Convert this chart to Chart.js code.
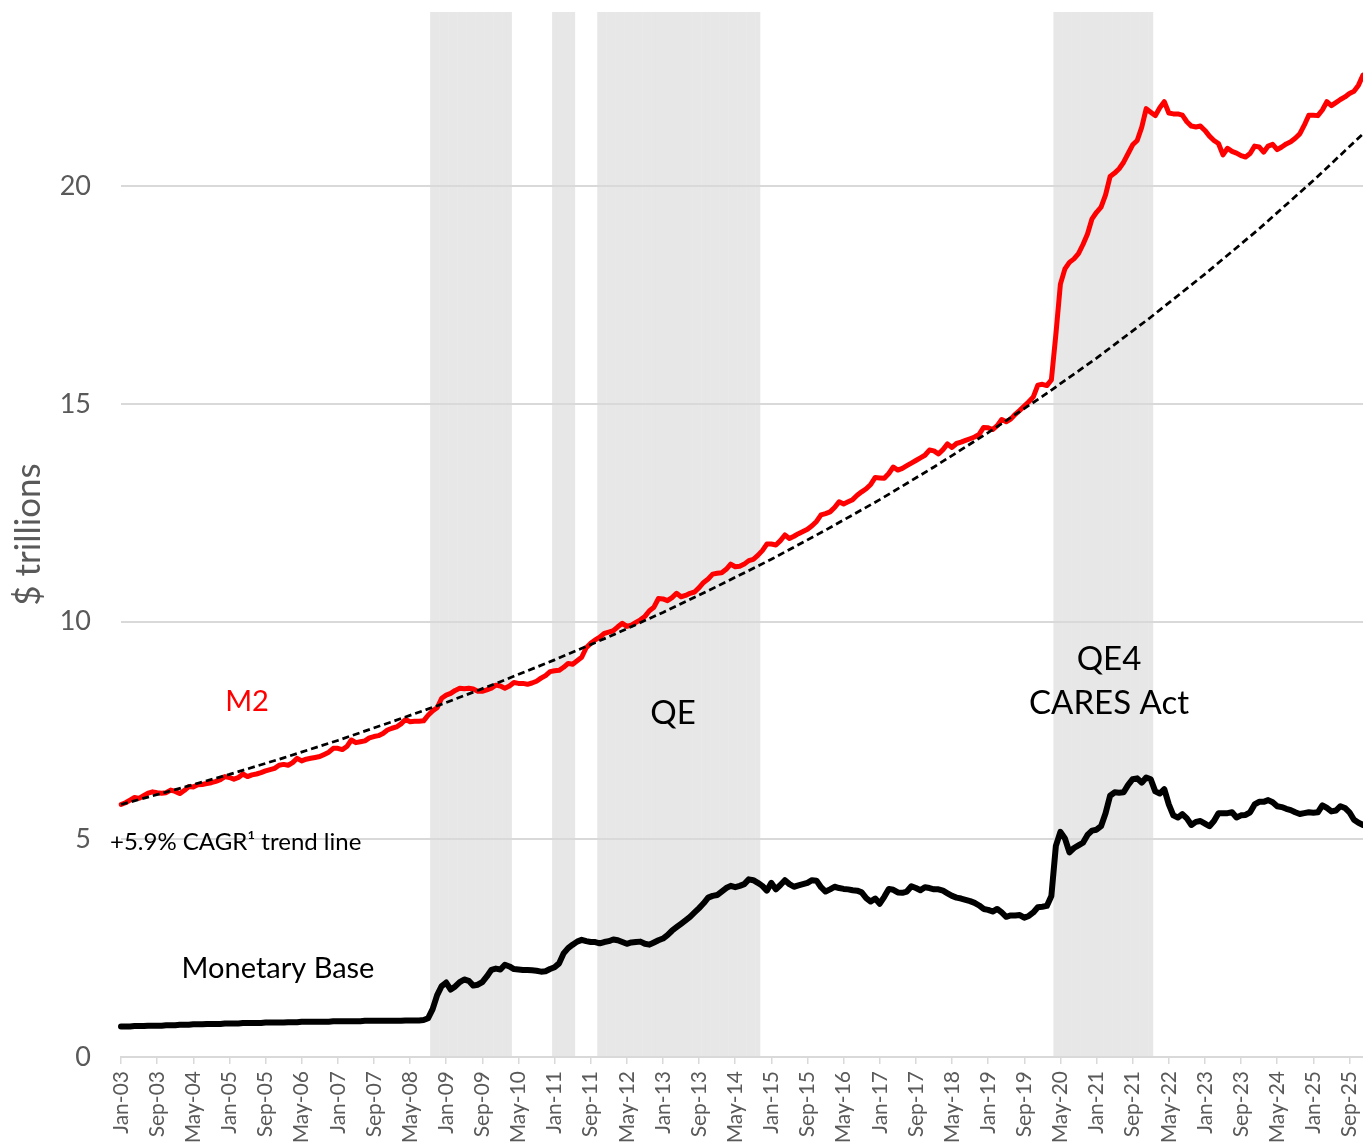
<!DOCTYPE html>
<html>
<head>
<meta charset="utf-8">
<script src="https://cdn.jsdelivr.net/npm/chart.js@4.4.1/dist/chart.umd.min.js"></script>
<style>
html,body{margin:0;padding:0;background:#ffffff;overflow:hidden}
canvas{display:block}
</style>
</head>
<body>
<canvas id="chart" width="1363" height="1147"></canvas>
<script>
// ---------- data ----------
const monthNames = ['Jan','Feb','Mar','Apr','May','Jun','Jul','Aug','Sep','Oct','Nov','Dec'];
const firstYear = 2003, lastYear = 2025;
const categories = [];
for (let y = firstYear; y <= lastYear; y++) {
  for (const m of monthNames) categories.push(m + '-' + String(y).slice(2));
}

// M2, $ trillions, monthly Jan-03 .. Dec-25
const m2Values = [
  5.80, 5.84, 5.90, 5.96, 5.94, 6.00, 6.06, 6.09, 6.07, 6.06, 6.07, 6.13,
  6.10, 6.05, 6.12, 6.21, 6.20, 6.25, 6.26, 6.28, 6.30, 6.33, 6.37, 6.44,
  6.42, 6.38, 6.42, 6.50, 6.44, 6.48, 6.50, 6.53, 6.57, 6.60, 6.63, 6.70,
  6.72, 6.70, 6.76, 6.86, 6.80, 6.84, 6.86, 6.88, 6.90, 6.95, 7.00, 7.09,
  7.09, 7.06, 7.13, 7.28, 7.22, 7.24, 7.26, 7.33, 7.36, 7.38, 7.43, 7.51,
  7.55, 7.58, 7.65, 7.75, 7.70, 7.71, 7.71, 7.72, 7.85, 7.95, 8.02, 8.24,
  8.31, 8.35, 8.42, 8.47, 8.46, 8.47, 8.45, 8.40, 8.40, 8.43, 8.47, 8.54,
  8.52, 8.47, 8.52, 8.60, 8.58, 8.58, 8.56, 8.59, 8.63, 8.70, 8.76, 8.85,
  8.87, 8.88, 8.95, 9.04, 9.02, 9.10, 9.18, 9.40, 9.50, 9.58, 9.64, 9.73,
  9.76, 9.79, 9.88, 9.96, 9.89, 9.92, 9.98, 10.04, 10.12, 10.25, 10.33, 10.53,
  10.52, 10.48, 10.55, 10.65, 10.57, 10.60, 10.65, 10.68, 10.78, 10.90, 10.98, 11.09,
  11.11, 11.12, 11.20, 11.32, 11.26, 11.27, 11.32, 11.40, 11.43, 11.52, 11.63, 11.78,
  11.78, 11.76, 11.86, 11.99, 11.91, 11.96, 12.02, 12.07, 12.12, 12.20, 12.30, 12.45,
  12.48, 12.52, 12.62, 12.75, 12.70, 12.75, 12.80, 12.90, 12.98, 13.05, 13.15, 13.31,
  13.30, 13.29, 13.40, 13.55, 13.48, 13.52, 13.58, 13.64, 13.70, 13.76, 13.82, 13.94,
  13.92, 13.85, 13.95, 14.08, 14.00, 14.09, 14.12, 14.16, 14.20, 14.24, 14.30, 14.46,
  14.45, 14.41, 14.50, 14.64, 14.59, 14.65, 14.76, 14.85, 14.95, 15.05, 15.16, 15.43,
  15.45, 15.42, 15.55, 16.60, 17.75, 18.10, 18.25, 18.33, 18.45, 18.66, 18.90, 19.25,
  19.40, 19.52, 19.80, 20.22, 20.30, 20.40, 20.55, 20.75, 20.95, 21.05, 21.35, 21.78,
  21.70, 21.62, 21.80, 21.94, 21.68, 21.66, 21.66, 21.63, 21.48, 21.38, 21.36, 21.38,
  21.28, 21.15, 21.05, 20.98, 20.72, 20.87, 20.80, 20.76, 20.70, 20.67, 20.75, 20.92,
  20.90, 20.78, 20.92, 20.96, 20.84, 20.90, 20.97, 21.02, 21.10, 21.20, 21.40, 21.63,
  21.63, 21.62, 21.75, 21.94, 21.85, 21.92, 21.99, 22.05, 22.13, 22.18, 22.32, 22.55
];

// Monetary base, $ trillions, monthly Jan-03 .. Dec-25
const baseValues = [
  0.70, 0.70, 0.70, 0.71, 0.71, 0.71, 0.72, 0.72, 0.72, 0.72, 0.73, 0.73,
  0.73, 0.74, 0.74, 0.74, 0.75, 0.75, 0.75, 0.76, 0.76, 0.76, 0.76, 0.77,
  0.77, 0.77, 0.77, 0.78, 0.78, 0.78, 0.78, 0.78, 0.79, 0.79, 0.79, 0.79,
  0.79, 0.80, 0.80, 0.80, 0.81, 0.81, 0.81, 0.81, 0.81, 0.81, 0.81, 0.82,
  0.82, 0.82, 0.82, 0.82, 0.82, 0.82, 0.83, 0.83, 0.83, 0.83, 0.83, 0.83,
  0.83, 0.83, 0.83, 0.84, 0.84, 0.84, 0.84, 0.85, 0.89, 1.10, 1.42, 1.63,
  1.71, 1.55, 1.62, 1.72, 1.78, 1.75, 1.64, 1.66, 1.72, 1.85, 2.00, 2.03,
  2.01, 2.12, 2.08, 2.02, 2.01, 2.00, 2.00, 1.99, 1.98, 1.96, 1.97, 2.02,
  2.06, 2.15, 2.38, 2.50, 2.58, 2.65, 2.69, 2.66, 2.64, 2.64, 2.61, 2.64,
  2.66, 2.70, 2.68, 2.64, 2.60, 2.63, 2.64, 2.65, 2.60, 2.58, 2.63, 2.68,
  2.72, 2.80, 2.90, 2.98, 3.06, 3.14, 3.22, 3.32, 3.42, 3.53, 3.66, 3.70,
  3.72, 3.80, 3.88, 3.93, 3.90, 3.93, 3.97, 4.08, 4.06, 4.00, 3.93, 3.82,
  4.00, 3.85, 3.95, 4.06, 3.97, 3.91, 3.94, 3.97, 4.00, 4.06, 4.05, 3.90,
  3.80, 3.85, 3.91, 3.88, 3.86, 3.85, 3.83, 3.82, 3.78, 3.65, 3.57, 3.64,
  3.52, 3.68, 3.86, 3.84, 3.78, 3.77, 3.80, 3.92, 3.88, 3.83, 3.90, 3.88,
  3.85, 3.85, 3.82, 3.76, 3.70, 3.66, 3.64, 3.61, 3.58, 3.54, 3.48, 3.40,
  3.38, 3.34, 3.40, 3.32, 3.22, 3.25, 3.25, 3.26, 3.20, 3.24, 3.32, 3.44,
  3.45, 3.47, 3.70, 4.85, 5.17, 5.02, 4.70, 4.80, 4.86, 4.92, 5.10, 5.20,
  5.22, 5.30, 5.60, 6.00, 6.08, 6.07, 6.08, 6.25, 6.38, 6.40, 6.30, 6.42,
  6.38, 6.10, 6.05, 6.15, 5.80, 5.55, 5.50, 5.58, 5.48, 5.33, 5.40, 5.42,
  5.36, 5.30, 5.42, 5.60, 5.60, 5.60, 5.62, 5.50, 5.55, 5.56, 5.62, 5.80,
  5.86, 5.86, 5.90, 5.85, 5.76, 5.74, 5.70, 5.67, 5.62, 5.58, 5.60, 5.62,
  5.61, 5.62, 5.78, 5.72, 5.64, 5.66, 5.76, 5.72, 5.62, 5.45, 5.38, 5.33
];

// +5.9% CAGR trend line, read at each January and at the last month
const trendDates = ['Jan-03','Jan-04','Jan-05','Jan-06','Jan-07','Jan-08','Jan-09','Jan-10',
  'Jan-11','Jan-12','Jan-13','Jan-14','Jan-15','Jan-16','Jan-17','Jan-18','Jan-19','Jan-20',
  'Jan-21','Jan-22','Jan-23','Jan-24','Jan-25','Dec-25'];
const trendValues = [5.80, 6.14, 6.49, 6.87, 7.27, 7.70, 8.14, 8.62,
  9.12, 9.65, 10.21, 10.81, 11.43, 12.10, 12.80, 13.55, 14.34, 15.17,
  16.05, 16.99, 17.98, 19.02, 20.13, 21.20];

// QE periods (shaded), first and last month
const qePeriods = [['Oct-08','Mar-10'], ['Jan-11','May-11'], ['Nov-11','Oct-14'], ['Apr-20','Jan-22']];

const yMin = 0, yMax = 24, yStep = 5;
const xLabelEvery = 8;

// ---------- derived tables for the library ----------
const shadeData = categories.map((c, i) =>
  qePeriods.some(([s, e]) => i >= categories.indexOf(s) && i <= categories.indexOf(e)) ? yMax : null);
const trendData = trendDates.map((d, i) => ({x: d, y: trendValues[i]}));

const FONT = 'Lato, "Open Sans", sans-serif';
const notes = [
  {text: 'M2', x: 247, y: 702, color: '#ff0000', size: 29, align: 'center'},
  {text: 'QE', x: 673, y: 713, color: '#000000', size: 33, align: 'center'},
  {text: 'QE4', x: 1109, y: 659, color: '#000000', size: 33, align: 'center'},
  {text: 'CARES Act', x: 1109, y: 703, color: '#000000', size: 33, align: 'center'},
  {text: 'Monetary Base', x: 278, y: 969, color: '#000000', size: 29, align: 'center'},
  {text: '+5.9% CAGR\u00B9 trend line', x: 110, y: 842, color: '#000000', size: 24, align: 'left'}
];

const notesPlugin = {
  id: 'notes',
  // redraw horizontal grid lines over the QE shading, under the series lines
  afterDatasetDraw(chart, args) {
    if (args.meta.type === 'bar') {
      chart.scales.y.drawGrid(chart.chartArea);
    }
  },
  afterDatasetsDraw(chart) {
    const ctx = chart.ctx;
    ctx.save();
    ctx.textBaseline = 'middle';
    for (const n of notes) {
      ctx.font = n.size + 'px ' + FONT;
      ctx.fillStyle = n.color;
      ctx.textAlign = n.align;
      ctx.fillText(n.text, n.x, n.y);
    }
    ctx.restore();
  }
};

function build() {
  new Chart(document.getElementById('chart'), {
    type: 'line',
    data: {
      labels: categories,
      datasets: [
        {
          label: 'Trend', data: trendData, borderColor: '#000000', borderWidth: 2.75,
          borderDash: [7, 4], pointRadius: 0, spanGaps: true, tension: 0, order: 0, fill: false
        },
        {
          label: 'M2', data: m2Values, borderColor: '#ff0000', borderWidth: 5,
          pointRadius: 0, tension: 0, order: 1, borderJoinStyle: 'round', borderCapStyle: 'round', fill: false
        },
        {
          label: 'Monetary Base', data: baseValues, borderColor: '#000000', borderWidth: 6,
          pointRadius: 0, tension: 0, order: 1, borderJoinStyle: 'round', borderCapStyle: 'round', fill: false
        },
        {
          type: 'bar', label: 'QE', data: shadeData, backgroundColor: '#e7e7e7',
          borderWidth: 0, barPercentage: 1.1, categoryPercentage: 1, order: 5
        }
      ]
    },
    options: {
      responsive: false,
      animation: false,
      devicePixelRatio: 1,
      layout: {padding: {top: 12, left: 0, right: 0, bottom: 0}},
      plugins: {legend: {display: false}, tooltip: {enabled: false}},
      scales: {
        x: {
          type: 'category',
          offset: false,
          grid: {display: true, drawOnChartArea: false, drawTicks: true, tickLength: 7,
                 color: '#d9d9d9', lineWidth: 1.5, offset: false},
          border: {display: true, color: '#d9d9d9', width: 2},
          ticks: {autoSkip: false, minRotation: 90, maxRotation: 90, padding: 7,
                  color: '#595959', font: {family: FONT, size: 21}},
          afterBuildTicks(s) { s.ticks = s.ticks.filter(t => t.value % xLabelEvery === 0); },
          afterFit(s) { s.height = 90; s.paddingLeft = 0; s.paddingRight = 0; }
        },
        y: {
          min: yMin, max: yMax,
          grid: {color: '#d9d9d9', lineWidth: 2, drawTicks: false},
          border: {display: false},
          ticks: {stepSize: yStep, padding: 30, color: '#595959', font: {family: FONT, size: 27}},
          afterBuildTicks(s) { s.ticks = s.ticks.filter(t => t.value % yStep === 0); },
          title: {display: true, text: '$ trillions', color: '#595959',
                  font: {family: FONT, size: 35}, padding: {top: 8, bottom: 0}},
          afterFit(s) { s.width = 121; s.paddingTop = 0; s.paddingBottom = 0; }
        }
      }
    },
    plugins: [notesPlugin]
  });
}

if (document.fonts && document.fonts.load) {
  Promise.all([document.fonts.load('26px Lato'), document.fonts.load('35px Lato')]).then(build, build);
} else {
  build();
}
</script>
</body>
</html>
